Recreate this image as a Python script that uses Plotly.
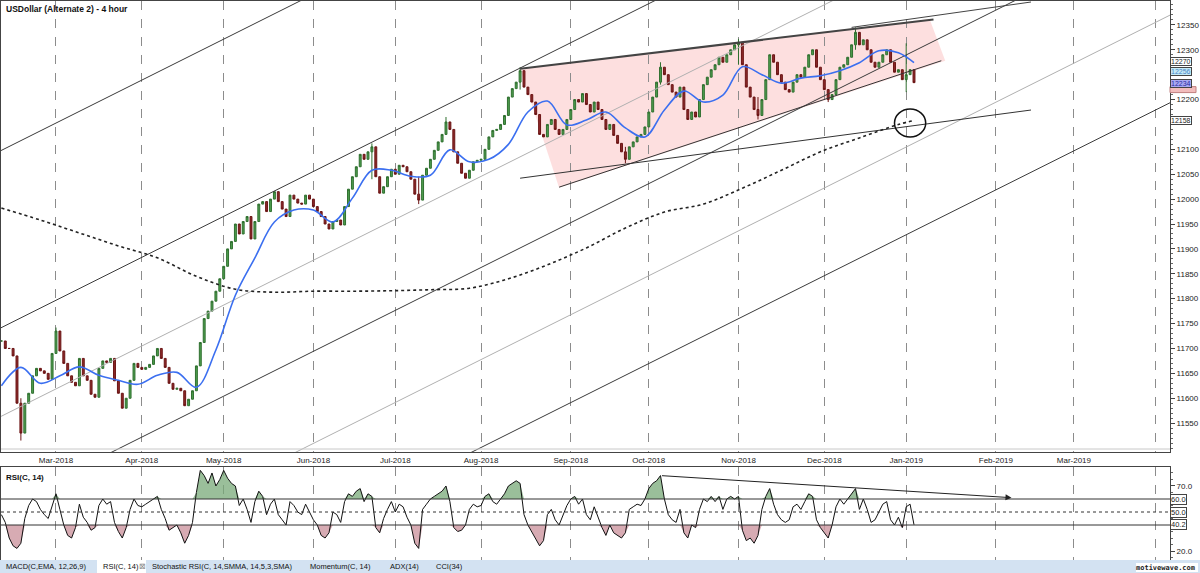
import plotly.graph_objects as go
import pandas as pd
import numpy as np

# ---------------- DATA ----------------
start_date = "2018-02-09"
close = [
11715,11700,11700,11685,11590,11530,11590,11610,11645,11660,11655,11650,11638,11690,
11735,11695,11670,11645,11632,11625,11680,11645,11636,11608,11602,11660,11675,11672,11680,11635,11610,11580,11600,11636,11670,11662,
11658,11662,11668,11685,11700,11680,11662,11630,11618,11620,11615,11585,11598,11615,11665,11712,11760,11775,11795,11815,11840,
11865,11900,11915,11950,11930,11955,11965,11920,11955,11990,11995,11975,12000,12015,11995,11980,11965,12008,12000,11992,11990,12008,12000,
11985,11975,11965,11950,11940,11955,11958,11948,11985,12020,12045,12065,12090,12080,12095,12105,12045,12012,12025,12045,12060,
12050,12068,12065,12055,12040,12010,11998,12048,12062,12080,12098,12115,12130,12155,12140,12095,12072,12052,12042,12058,12075,12078,
12080,12100,12125,12138,12140,12150,12168,12205,12222,12235,12258,12225,12210,12195,12170,12130,12125,12150,12160,12140,12130,12140,12160,
12180,12200,12195,12212,12190,12175,12195,12180,12160,12140,12150,12128,12112,12095,12080,12105,12115,12125,12130,12145,
12175,12205,12235,12265,12250,12230,12215,12205,12225,12180,12160,12175,12165,12200,12230,12245,12260,12270,12285,12275,12290,12300,12310,
12315,12270,12225,12205,12180,12168,12200,12240,12290,12275,12250,12235,12220,12215,12235,12250,12245,12265,12290,12300,12265,12240,
12220,12200,12210,12240,12265,12270,12285,12310,12335,12310,12320,12300,12275,12265,12275,12290,12300,12275,12255,12260,12240,
12250,12260,12234]

# bars whose extremes reach beyond open/close (index, high, low)
wick_idx = [5, 14, 95, 107, 114, 133, 160, 169, 189, 194, 212, 219, 232]
wick_high = [11600, 11742, 12112, 12045, 12165, 12265, 12105, 12275, 12322, 12205, 12215, 12345, 12313]
wick_low = [11515, 11690, 12040, 11990, 12130, 12220, 12072, 12230, 12270, 12160, 12195, 12300, 12215]

rsi = [
48,42,30,24,22,26,45,55,60,58,52,48,45,55,
64,52,40,32,30,38,56,46,42,36,38,55,60,56,58,42,35,30,38,52,60,55,
54,56,58,60,62,52,45,36,38,40,34,26,32,42,65,82,78,72,80,70,75,
82,76,72,70,55,60,52,42,58,66,62,48,56,60,48,44,40,58,55,50,48,56,50,
44,40,32,30,34,50,48,42,58,64,62,66,68,58,64,62,38,34,45,52,58,
50,56,54,46,40,26,22,52,56,60,62,64,66,70,58,38,35,36,40,52,56,54,
55,62,64,58,56,60,64,70,72,74,72,48,40,35,30,24,28,48,52,44,40,48,55,
60,62,56,60,48,44,54,46,38,32,40,34,32,30,34,52,54,56,55,60,
68,72,74,78,60,48,44,42,52,34,30,40,38,52,60,58,62,58,62,52,60,62,60,
62,36,28,30,26,32,52,62,68,56,48,44,42,44,54,56,52,58,64,62,44,38,
34,30,40,54,60,56,60,64,68,52,60,52,42,44,50,56,58,44,40,46,38,
54,56,40.2]

ema_idx = [0,5,10,15,20,25,30,35,40,45,50,55,60,65,70,75,80,85,90,95,100,105,110,115,
           120,125,130,135,140,145,150,155,160,165,170,175,180,185,190,195,200,205,210,215,220,225,230,234]
ema_vals = [11625,11662,11630,11645,11663,11646,11636,11628,11646,11652,11622,11697,11807,11882,
            11954,11978,11978,11954,12002,12058,12058,12046,12048,12099,12075,12080,12110,12175,
            12197,12149,12159,12175,12143,12125,12179,12217,12195,12209,12266,12250,12233,12243,
            12248,12258,12274,12298,12294,12274]

sma_idx = [0,10,20,30,40,50,60,70,80,90,100,110,120,130,140,150,160,170,180,190,200,210,220,230,234]
sma_vals = [11982,11958,11932,11906,11882,11845,11819,11813,11815,11815,11816,11818,11821,11840,
            11868,11902,11942,11974,11990,12022,12058,12095,12123,12150,12158]

# parallel channel lines (values at the two dates)
chan_dates = ["2018-02-08", "2019-04-05"]
chan_start = [12094, 11738, 11560, 11377, 11192, 11015]
chan_end = [13274, 12918, 12739, 12556, 12371, 12195]
chan_color = ["#3a3a3a", "#3a3a3a", "#b0b0b0", "#3a3a3a", "#b0b0b0", "#3a3a3a"]

wedge_dates = ["2018-08-15", "2019-01-09", "2019-01-15", "2018-08-29"]
wedge_vals = [12262, 12362, 12278, 12023]
top_line_dates = ["2018-08-15", "2019-01-10"]
top_line_vals = [12262, 12361]
thin_top_dates = ["2018-12-12", "2019-02-14"]
thin_top_vals = [12345, 12396]
low_line_dates = ["2018-08-29", "2019-01-14"]
low_line_vals = [12024, 12278]
support_dates = ["2018-08-15", "2019-02-14"]
support_vals = [12042, 12179]

circle_dates = ["2018-12-27", "2019-01-08"]
circle_vals = [12125, 12181]

rsi_trend_dates = ["2018-10-04", "2019-02-07"]
rsi_trend_vals = [78, 61]

month_ticks = ["2018-03-01", "2018-04-02", "2018-05-01", "2018-06-01", "2018-07-02", "2018-08-01",
               "2018-09-03", "2018-10-01", "2018-11-01", "2018-12-03", "2019-01-01", "2019-02-01",
               "2019-03-01", "2019-04-01"]
month_labels = ["Mar-2018", "Apr-2018", "May-2018", "Jun-2018", "Jul-2018", "Aug-2018", "Sep-2018",
                "Oct-2018", "Nov-2018", "Dec-2018", "Jan-2019", "Feb-2019", "Mar-2019", ""]

price_ticks = list(range(11550, 12351, 50))
hidden_price_labels = [12150, 12250]   # covered by value boxes in the reference
price_boxes = [(12232, "12234", "#a9a9f2", "#2a2aa0"),
               (12256, "12256", "#c6ebf7", "#4a86c6"),
               (12277, "12270", "#ffffff", "#222222"),
               (12158, "12158", "#ffffff", "#222222")]
pink_box_vals = [12226, 12214]
rsi_boxes = [(60, "60.0"), (50, "50.0"), (40.2, "40.2")]

tabs = [("MACD(C,EMA, 12,26,9)", 4), ("RSI(C, 14)", 101), ("\u22a0", 137),
        ("Stochastic RSI(C, 14,SMMA, 14,5,3,SMA)", 150), ("Momentum(C, 14)", 308),
        ("ADX(14)", 388), ("CCI(34)", 434)]

# ---------------- BUILD ----------------
dates = pd.bdate_range(start_date, periods=len(close))
opens = [close[0]] + close[:-1]
highs = [max(o, c) for o, c in zip(opens, close)]
lows = [min(o, c) for o, c in zip(opens, close)]
for i, hi, lo in zip(wick_idx, wick_high, wick_low):
    highs[i] = max(highs[i], hi)
    lows[i] = min(lows[i], lo)

FONT = "Liberation Sans"
W, H = 1200, 573
ML, MR, MT, MB = 1, 30, 1, 13
PH = H - MT - MB
PW = W - ML - MR

def py(px):  # pixel from top -> paper y
    return (H - MB - px) / PH

def pxx(px):  # pixel from left -> paper x
    return (px - ML) / PW

fig = go.Figure()

# channel lines
for s, e, c in zip(chan_start, chan_end, chan_color):
    fig.add_trace(go.Scatter(x=chan_dates, y=[s, e], mode="lines", line=dict(color=c, width=1),
                             hoverinfo="skip", showlegend=False))

for dts, vals, col, wd in [(top_line_dates, top_line_vals, "#444444", 2),
                           (thin_top_dates, thin_top_vals, "#444444", 1),
                           (low_line_dates, low_line_vals, "#333333", 1),
                           (support_dates, support_vals, "#333333", 1)]:
    fig.add_trace(go.Scatter(x=dts, y=vals, mode="lines", line=dict(color=col, width=wd),
                             hoverinfo="skip", showlegend=False))

# long moving average (dotted)
fig.add_trace(go.Scatter(x=dates[sma_idx], y=sma_vals, mode="lines",
                         line=dict(color="#222222", width=1.6, dash="dot", shape="spline"),
                         hoverinfo="skip", showlegend=False))

# candles
fig.add_trace(go.Candlestick(x=dates, open=opens, high=highs, low=lows, close=close,
                             increasing=dict(line=dict(color="#2f6f2f", width=1), fillcolor="#4f9f4f"),
                             decreasing=dict(line=dict(color="#6a1414", width=1), fillcolor="#8e2a2a"),
                             whiskerwidth=0, showlegend=False, hoverinfo="skip"))

# EMA
fig.add_trace(go.Scatter(x=dates[ema_idx], y=ema_vals, mode="lines",
                         line=dict(color="#3b6ff0", width=1.6, shape="spline", smoothing=1.0),
                         hoverinfo="skip", showlegend=False))

# ---------------- RSI PANEL ----------------
rsi_arr = np.array(rsi, dtype=float)
fig.add_trace(go.Scatter(x=dates, y=[60] * len(rsi), mode="lines", line=dict(width=0),
                         hoverinfo="skip", showlegend=False, xaxis="x2", yaxis="y2"))
fig.add_trace(go.Scatter(x=dates, y=np.maximum(rsi_arr, 60), mode="lines", line=dict(width=0),
                         fill="tonexty", fillcolor="rgba(120,170,120,0.75)",
                         hoverinfo="skip", showlegend=False, xaxis="x2", yaxis="y2"))
fig.add_trace(go.Scatter(x=dates, y=[40] * len(rsi), mode="lines", line=dict(width=0),
                         hoverinfo="skip", showlegend=False, xaxis="x2", yaxis="y2"))
fig.add_trace(go.Scatter(x=dates, y=np.minimum(rsi_arr, 40), mode="lines", line=dict(width=0),
                         fill="tonexty", fillcolor="rgba(205,150,160,0.8)",
                         hoverinfo="skip", showlegend=False, xaxis="x2", yaxis="y2"))
fig.add_trace(go.Scatter(x=dates, y=rsi, mode="lines", line=dict(color="#111111", width=1),
                         hoverinfo="skip", showlegend=False, xaxis="x2", yaxis="y2"))

shapes = []
# rising wedge fill (below the candles)
wedge_path = "M " + " L ".join(f"{d},{v}" for d, v in zip(wedge_dates, wedge_vals)) + " Z"
shapes.append(dict(type="path", xref="x", yref="y", path=wedge_path, fillcolor="rgba(252,215,215,0.8)",
                   line=dict(width=0), layer="below"))
for lvl, dash in [(60, "solid"), (50, "dot"), (40, "solid")]:
    shapes.append(dict(type="line", xref="paper", x0=0, x1=1, yref="y2", y0=lvl, y1=lvl,
                       line=dict(color="#333333", width=1, dash=dash)))
shapes.append(dict(type="circle", xref="x", yref="y", x0=circle_dates[0], x1=circle_dates[1],
                   y0=circle_vals[0], y1=circle_vals[1], line=dict(color="#111111", width=1.5)))
# double line at bottom of price panel
shapes.append(dict(type="line", xref="paper", yref="paper", x0=0, x1=1, y0=py(449), y1=py(449),
                   line=dict(color="#c8c8c8", width=1)))
# pink value box (hidden under the blue one in the reference)
shapes.append(dict(type="rect", xref="paper", yref="y", x0=1.0, x1=pxx(1196), y0=pink_box_vals[1],
                   y1=pink_box_vals[0], fillcolor="#f2bcbc", line=dict(color="#c08080", width=1)))
# tab bar
shapes.append(dict(type="rect", xref="paper", yref="paper", x0=pxx(0), x1=pxx(W), y0=py(H), y1=py(560),
                   fillcolor="#d3e2f2", line=dict(width=0), layer="above"))
shapes.append(dict(type="rect", xref="paper", yref="paper", x0=pxx(97), x1=pxx(146), y0=py(H), y1=py(560),
                   fillcolor="#ffffff", line=dict(width=0), layer="above"))
shapes.append(dict(type="rect", xref="paper", yref="paper", x0=pxx(1136), x1=pxx(1198), y0=py(572), y1=py(563),
                   fillcolor="#ffffff", line=dict(width=0), layer="above"))

annotations = []
annotations.append(dict(xref="paper", yref="paper", x=pxx(4), y=py(2), xanchor="left", yanchor="top",
                        text="<b>USDollar (Alternate 2) - 4 hour</b>", showarrow=False,
                        font=dict(family=FONT, size=8.5, color="#111111")))
annotations.append(dict(xref="paper", yref="paper", x=pxx(4), y=py(471), xanchor="left", yanchor="top",
                        text="<b>RSI(C, 14)</b>", showarrow=False,
                        font=dict(family=FONT, size=8, color="#111111")))
for val, txt, bg, fc in price_boxes:
    annotations.append(dict(xref="paper", yref="y", x=1.0, y=val, xanchor="left", yanchor="middle",
                            text=txt, showarrow=False, bgcolor=bg, bordercolor="#444444", borderwidth=1,
                            borderpad=0, font=dict(family=FONT, size=7, color=fc)))
for val, txt in rsi_boxes:
    annotations.append(dict(xref="paper", yref="y2", x=1.0, y=val, xanchor="left", yanchor="middle",
                            text=txt, showarrow=False, bgcolor="#ffffff", bordercolor="#444444",
                            borderwidth=1, borderpad=0, font=dict(family=FONT, size=7.5, color="#222222")))
annotations.append(dict(xref="x2", yref="y2", axref="x2", ayref="y2",
                        x=rsi_trend_dates[1], y=rsi_trend_vals[1],
                        ax=rsi_trend_dates[0], ay=rsi_trend_vals[0], text="", showarrow=True,
                        arrowhead=2, arrowsize=1.2, arrowwidth=1, arrowcolor="#222222"))
for txt, xp in tabs:
    annotations.append(dict(xref="paper", yref="paper", x=pxx(xp), y=py(566.5), xanchor="left",
                            yanchor="middle", text=txt, showarrow=False,
                            font=dict(family=FONT, size=7.5, color="#888888" if txt == "\u22a0" else "#111111")))
annotations.append(dict(xref="paper", yref="paper", x=pxx(1197), y=py(567.5), xanchor="right",
                        yanchor="middle", text="<b>motivewave.com</b>", showarrow=False,
                        font=dict(family="DejaVu Sans Mono", size=7, color="#222222")))

x_range = ["2018-02-08 21:36", "2019-04-04 15:22"]
common_x = dict(range=x_range, rangebreaks=[dict(bounds=["sat", "mon"])], showgrid=True,
                griddash="dash", gridcolor="#8c8c8c", gridwidth=1, tickvals=month_ticks,
                showline=True, linecolor="#444444", mirror=True, zeroline=False, ticks="")

price_ticktext = ["" if v in hidden_price_labels else str(v) for v in price_ticks]

fig.update_layout(
    width=W, height=H, margin=dict(l=ML, r=MR, t=MT, b=MB),
    paper_bgcolor="#ffffff", plot_bgcolor="#ffffff",
    font=dict(family=FONT, size=8, color="#222222"),
    showlegend=False,
    xaxis=dict(domain=[0, 1], anchor="y", ticktext=month_labels, rangeslider=dict(visible=False),
               tickfont=dict(size=8, color="#222222"), **common_x),
    yaxis=dict(domain=[py(452), py(1)], range=[11492, 12398], side="right", showgrid=False,
               tickvals=price_ticks, ticktext=price_ticktext, ticks="outside", ticklen=4,
               tickcolor="#444444",
               minor=dict(dtick=10, ticklen=2, tickcolor="#666666", ticks="outside", showgrid=False),
               showline=True, linecolor="#444444", mirror=True, zeroline=False,
               tickfont=dict(size=8, color="#222222")),
    xaxis2=dict(domain=[0, 1], anchor="y2", matches="x", showticklabels=False, **common_x),
    yaxis2=dict(domain=[0, py(467)], range=[13.1, 84.6], side="right", showgrid=False,
                tickvals=[20, 70], ticktext=["20.0", "70.0"], ticks="outside", ticklen=4,
                tickcolor="#444444", showline=True, linecolor="#444444", mirror=True, zeroline=False,
                minor=dict(dtick=5, ticklen=2, tickcolor="#666666", ticks="outside", showgrid=False),
                tickfont=dict(size=8, color="#222222")),
    shapes=shapes, annotations=annotations,
)

fig.write_html("out.html")
